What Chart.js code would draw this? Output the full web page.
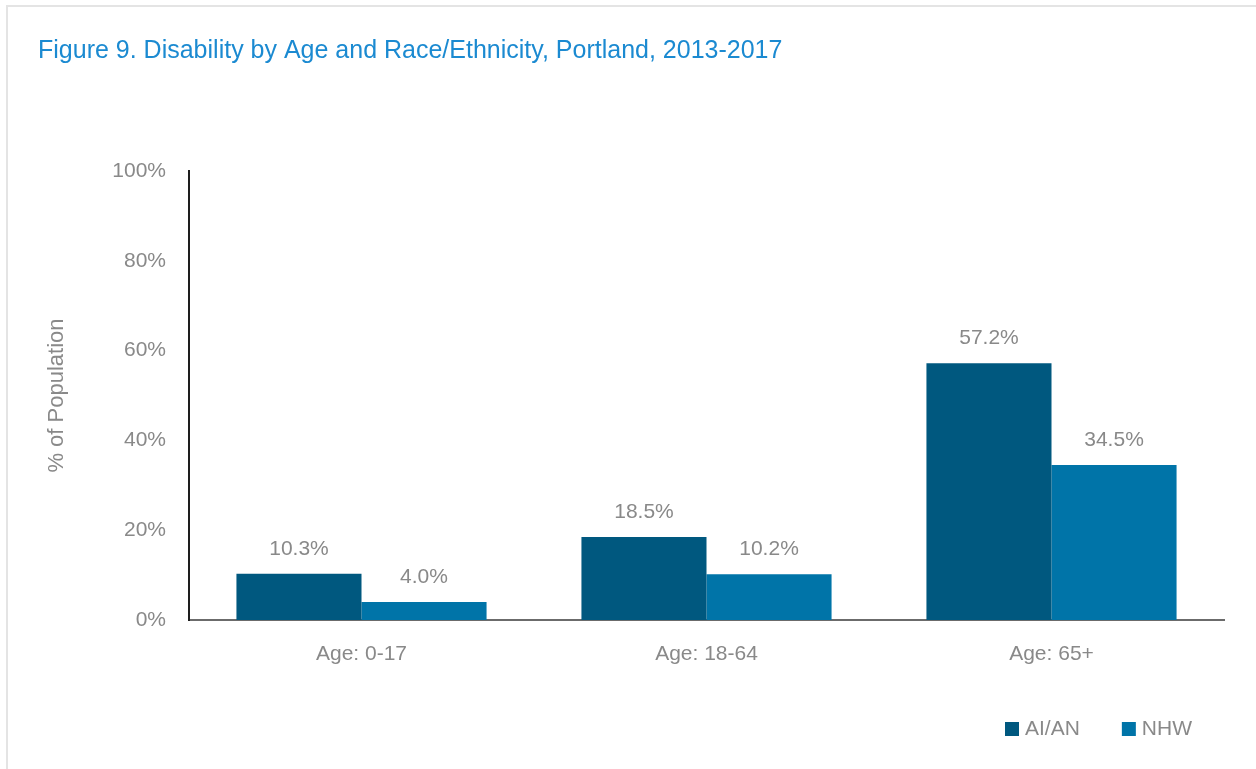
<!DOCTYPE html>
<html>
<head>
<meta charset="utf-8">
<script src="https://cdn.jsdelivr.net/npm/chart.js@4/dist/chart.umd.min.js"></script>
<style>
  html, body { margin: 0; padding: 0; background: #fff; }
  #frame { position: absolute; left: 6px; top: 5px; width: 1250px; height: 764px;
           border-top: 2px solid #e4e4e4; border-left: 2px solid #e4e4e4; }
  #wrap { position: absolute; left: 0; top: 0; width: 1256px; height: 769px; }
</style>
</head>
<body>
<div id="frame"></div>
<div id="wrap"><canvas id="myChart" width="1256" height="769"></canvas></div>
<script>
const categories = ['Age: 0-17', 'Age: 18-64', 'Age: 65+'];
const aianValues = [10.3, 18.5, 57.2];
const nhwValues = [4.0, 10.2, 34.5];
const yTicks = [0, 20, 40, 60, 80, 100];

const LABEL_FONT = { family: "'Liberation Sans', Arial, sans-serif", size: 21 };
const GRAY = '#898989';

// value labels above each bar
const valueLabels = {
  id: 'valueLabels',
  afterDatasetsDraw(chart) {
    const ctx = chart.ctx;
    ctx.save();
    ctx.font = '21px "Liberation Sans", Arial, sans-serif';
    ctx.fillStyle = GRAY;
    ctx.textAlign = 'center';
    ctx.textBaseline = 'middle';
    chart.data.datasets.forEach((ds, i) => {
      chart.getDatasetMeta(i).data.forEach((bar, j) => {
        ctx.fillText(ds.data[j].toFixed(1) + '%', bar.x, bar.y - 25);
      });
    });
    ctx.restore();
  }
};

// legend bottom right, square markers
const cornerLegend = {
  id: 'cornerLegend',
  afterDraw(chart) {
    const ctx = chart.ctx;
    ctx.save();
    ctx.font = '21px "Liberation Sans", Arial, sans-serif';
    ctx.textBaseline = 'middle';
    let x = chart.chartArea.right - 219;
    const y = 729;
    chart.data.datasets.forEach((ds) => {
      ctx.fillStyle = ds.backgroundColor;
      ctx.fillRect(x, y - 7, 14, 14);
      ctx.fillStyle = GRAY;
      ctx.fillText(ds.label, x + 20, y);
      x += 20 + ctx.measureText(ds.label).width + 42;
    });
    ctx.restore();
  }
};

const data = {
  labels: categories,
  datasets: [
    { label: 'AI/AN', data: aianValues, backgroundColor: '#00587f',
      categoryPercentage: 0.725, barPercentage: 1.0 },
    { label: 'NHW', data: nhwValues, backgroundColor: '#0074a8',
      categoryPercentage: 0.725, barPercentage: 1.0 }
  ]
};

const config = {
  type: 'bar',
  data: data,
  options: {
    responsive: false,
    animation: false,
    layout: { padding: { left: 38, right: 32, top: 0, bottom: 0 } },
    plugins: {
      legend: { display: false },
      tooltip: { enabled: false },
      title: {
        display: true,
        text: 'Figure 9. Disability by Age and Race/Ethnicity, Portland, 2013-2017',
        align: 'start',
        color: '#1b8ad1',
        font: { family: "'Liberation Sans', Arial, sans-serif", size: 25, weight: 'normal' },
        padding: { top: 36, bottom: 105 }
      }
    },
    scales: {
      x: {
        grid: { display: false, drawTicks: false },
        border: { display: true, color: '#6b6b6b', width: 2 },
        ticks: { color: GRAY, font: LABEL_FONT, padding: 22 },
        afterFit: (scale) => { scale.height = 149; }
      },
      y: {
        min: 0,
        max: 100,
        grid: { display: false, drawTicks: false },
        border: { display: true, color: '#1e1e1e', width: 2 },
        afterBuildTicks: (scale) => { scale.ticks = yTicks.map(v => ({ value: v })); },
        ticks: { color: GRAY, font: LABEL_FONT, padding: 23, callback: (v) => v + '%' },
        title: {
          display: true,
          text: '% of Population',
          color: GRAY,
          font: { family: "'Liberation Sans', Arial, sans-serif", size: 22 },
          padding: { top: 6, bottom: 0 }
        },
        afterFit: (scale) => { scale.width = 189 - 38; }
      }
    }
  },
  plugins: [valueLabels, cornerLegend]
};

const ctx = document.getElementById('myChart').getContext('2d');
const chart = new Chart(ctx, config);
</script>
</body>
</html>
